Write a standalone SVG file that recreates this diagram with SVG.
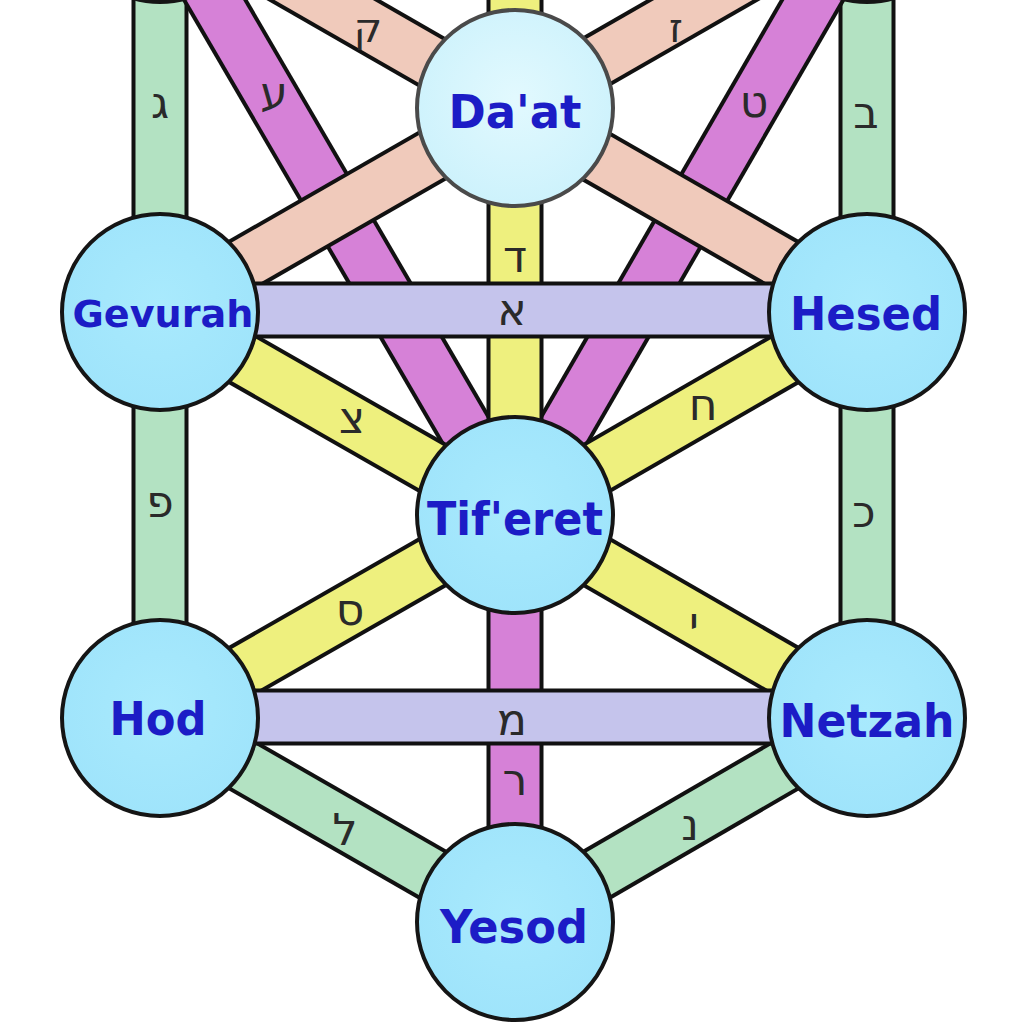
<svg xmlns="http://www.w3.org/2000/svg" width="1024" height="1024" viewBox="0 0 1024 1024">
<defs>
<radialGradient id="gNode" cx="50%" cy="45%" r="55%">
<stop offset="0" stop-color="#a9eafd"/>
<stop offset="1" stop-color="#9fe4fb"/>
</radialGradient>
<radialGradient id="gDaat" cx="50%" cy="45%" r="55%">
<stop offset="0" stop-color="#e2f9fe"/>
<stop offset="1" stop-color="#cdf2fc"/>
</radialGradient>
<style>
.o{stroke:#111;stroke-width:57;stroke-linecap:butt;fill:none}
.i{stroke-width:49;stroke-linecap:butt;fill:none}
.green{stroke:#b3e2c2}
.pink{stroke:#f0cabb}
.purple{stroke:#d681d7}
.yellow{stroke:#eef07e}
.lav{stroke:#c5c4ec}
.let{font-family:"DejaVu Sans",sans-serif;font-size:44px;fill:#2a2a2a;text-anchor:middle}
.node circle{fill:url(#gNode);stroke:#151515;stroke-width:4}
.node text{font-family:"DejaVu Sans",sans-serif;font-weight:bold;font-size:46px;fill:#1c1cc6;text-anchor:middle}
</style>
</defs>
<rect width="1024" height="1024" fill="#ffffff"/>
<g id="connectors">
<g id="p-binah-gevurah"><line class="o" x1="160" y1="-96" x2="160" y2="312"/><line class="i green" x1="160" y1="-96" x2="160" y2="312"/></g>
<g id="p-chokhmah-hesed"><line class="o" x1="867" y1="-96" x2="867" y2="312"/><line class="i green" x1="867" y1="-96" x2="867" y2="312"/></g>
<g id="p-gevurah-hod"><line class="o" x1="160" y1="312" x2="160" y2="718"/><line class="i green" x1="160" y1="312" x2="160" y2="718"/></g>
<g id="p-hesed-netzah"><line class="o" x1="867" y1="312" x2="867" y2="718"/><line class="i green" x1="867" y1="312" x2="867" y2="718"/></g>
<g id="p-binah-tiferet"><line class="o" x1="160" y1="-94" x2="515" y2="515"/><line class="i purple" x1="160" y1="-94" x2="515" y2="515"/></g>
<g id="p-chokhmah-tiferet"><line class="o" x1="867" y1="-94" x2="515" y2="515"/><line class="i purple" x1="867" y1="-94" x2="515" y2="515"/></g>
<g id="p-keter-tiferet"><line class="o" x1="515" y1="-300" x2="515" y2="515"/><line class="i yellow" x1="515" y1="-300" x2="515" y2="515"/></g>
<g id="p-binah-hesed"><line class="o" x1="160" y1="-94" x2="867" y2="312"/><line class="i pink" x1="160" y1="-94" x2="867" y2="312"/></g>
<g id="p-chokhmah-gevurah"><line class="o" x1="867" y1="-94" x2="160" y2="312"/><line class="i pink" x1="867" y1="-94" x2="160" y2="312"/></g>
<g id="p-gevurah-tiferet"><line class="o" x1="160" y1="312" x2="515" y2="515"/><line class="i yellow" x1="160" y1="312" x2="515" y2="515"/></g>
<g id="p-hesed-tiferet"><line class="o" x1="867" y1="312" x2="515" y2="515"/><line class="i yellow" x1="867" y1="312" x2="515" y2="515"/></g>
<g id="p-hod-tiferet"><line class="o" x1="160" y1="718" x2="515" y2="515"/><line class="i yellow" x1="160" y1="718" x2="515" y2="515"/></g>
<g id="p-netzah-tiferet"><line class="o" x1="867" y1="718" x2="515" y2="515"/><line class="i yellow" x1="867" y1="718" x2="515" y2="515"/></g>
<g id="p-tiferet-yesod"><line class="o" x1="515" y1="515" x2="515" y2="922"/><line class="i purple" x1="515" y1="515" x2="515" y2="922"/></g>
<g id="p-hod-yesod"><line class="o" x1="160" y1="718" x2="515" y2="922"/><line class="i green" x1="160" y1="718" x2="515" y2="922"/></g>
<g id="p-netzah-yesod"><line class="o" x1="867" y1="718" x2="515" y2="922"/><line class="i green" x1="867" y1="718" x2="515" y2="922"/></g>
<g id="p-gevurah-hesed"><line class="o" x1="160" y1="310" x2="867" y2="310"/><line class="i lav" x1="160" y1="310" x2="867" y2="310"/></g>
<g id="p-hod-netzah"><line class="o" x1="160" y1="717" x2="867" y2="717"/><line class="i lav" x1="160" y1="717" x2="867" y2="717"/></g>
<g id="letters">
<text class="let" x="368" y="42" style="font-size:40px">ק</text>
<text class="let" x="676" y="42" style="font-size:40px">ז</text>
<text class="let" x="160" y="118">ג</text>
<text class="let" x="866" y="128">ב</text>
<text class="let" x="274" y="108">ע</text>
<text class="let" x="754" y="117">ט</text>
<text class="let" x="515" y="272">ד</text>
<text class="let" x="512" y="325">א</text>
<text class="let" x="352" y="433">צ</text>
<text class="let" x="703" y="420">ח</text>
<text class="let" x="160" y="517">פ</text>
<text class="let" x="864" y="527">כ</text>
<text class="let" x="350" y="625">ס</text>
<text class="let" x="694" y="638">י</text>
<text class="let" x="512" y="735">מ</text>
<text class="let" x="515" y="795">ר</text>
<text class="let" x="345" y="845">ל</text>
<text class="let" x="690" y="840">נ</text>
</g>
</g>
<g id="n-binah" class="node"><circle cx="160" cy="-96" r="98"/></g>
<g id="n-chokhmah" class="node"><circle cx="867" cy="-96" r="98"/></g>
<g id="n-daat" class="node"><circle cx="515" cy="108" r="98" style="fill:url(#gDaat);stroke:#4a4a4a"/><text x="515" y="128" textLength="133" lengthAdjust="spacingAndGlyphs">Da'at</text></g>
<g id="n-gevurah" class="node"><circle cx="160" cy="312" r="98"/><text x="163" y="327" style="font-size:38px" textLength="181" lengthAdjust="spacingAndGlyphs">Gevurah</text></g>
<g id="n-hesed" class="node"><circle cx="867" cy="312" r="98"/><text x="866" y="330" textLength="152" lengthAdjust="spacingAndGlyphs">Hesed</text></g>
<g id="n-tiferet" class="node"><circle cx="515" cy="515" r="98"/><text x="515" y="535" textLength="176" lengthAdjust="spacingAndGlyphs">Tif'eret</text></g>
<g id="n-hod" class="node"><circle cx="160" cy="718" r="98"/><text x="158" y="735" textLength="97" lengthAdjust="spacingAndGlyphs">Hod</text></g>
<g id="n-netzah" class="node"><circle cx="867" cy="718" r="98"/><text x="867" y="737" textLength="175" lengthAdjust="spacingAndGlyphs">Netzah</text></g>
<g id="n-yesod" class="node"><circle cx="515" cy="922" r="98"/><text x="514" y="943" textLength="148" lengthAdjust="spacingAndGlyphs">Yesod</text></g>
</svg>
